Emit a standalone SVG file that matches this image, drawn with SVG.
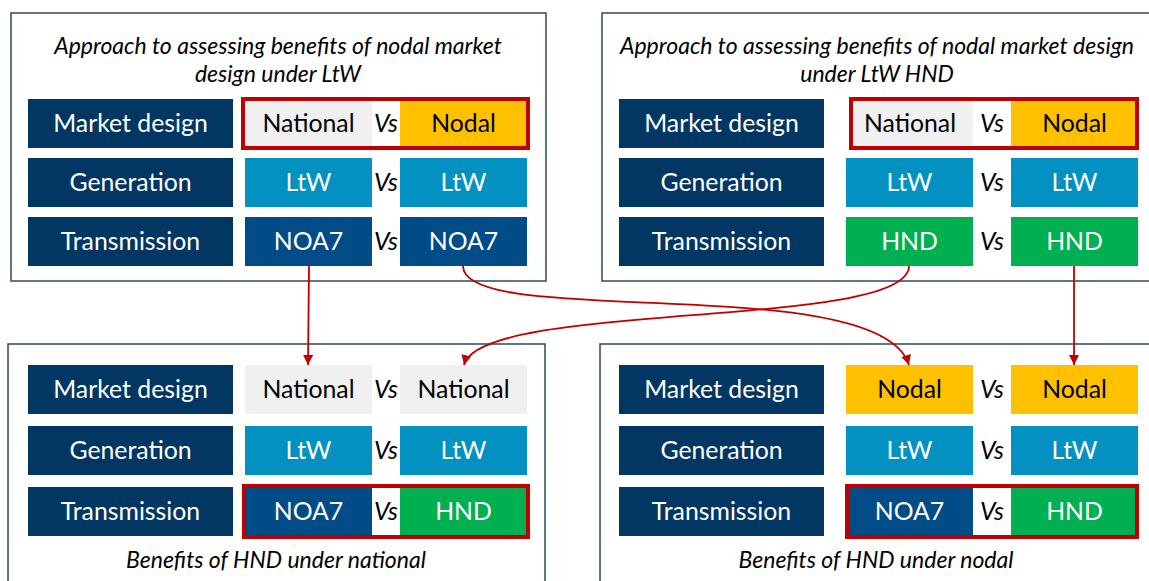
<svg xmlns="http://www.w3.org/2000/svg" width="1149" height="581" viewBox="0 0 1149 581">
<defs>
<style>
.panel{fill:#fff;stroke:#2A4868;stroke-width:1.5}
.lbl{fill:#023764}
.nat{fill:#EFF0EF}
.nod{fill:#FFC000}
.ltw{fill:#0391C2}
.noa{fill:#014C86}
.hnd{fill:#00B050}
.frame{fill:none;stroke:#C00000;stroke-width:4}
text{font-family:Lato,"Liberation Sans",sans-serif;text-anchor:middle}
.tw{fill:#fff;font-size:24.8px}
.tb{fill:#000;font-size:24.8px}
.vs{fill:#000;font-size:24.8px;font-style:italic}
.ti{fill:#000;font-size:23px;font-style:italic}
.conn{fill:none;stroke:#C00000;stroke-width:1.8}
</style>
<marker id="ah" markerUnits="userSpaceOnUse" markerWidth="10" markerHeight="10" viewBox="0 0 10 10" refX="10" refY="5" orient="auto">
<path d="M0,0 L10,5 L0,10 z" fill="#C00000"/>
</marker>
</defs>
<rect width="1149" height="581" fill="#fff"/>

<g id="panel-top-left">
<rect class="panel" x="11" y="13" width="535" height="268"/>
<text class="ti" x="278" y="54">Approach to assessing benefits of nodal market</text>
<text class="ti" x="278" y="82">design under LtW</text>
<rect class="lbl" x="28" y="99" width="205" height="49"/><text class="tw" x="130.5" y="132">Market design</text>
<rect class="lbl" x="28" y="158" width="205" height="49"/><text class="tw" x="130.5" y="191">Generation</text>
<rect class="lbl" x="28" y="217" width="205" height="49"/><text class="tw" x="130.5" y="250">Transmission</text>
<rect class="nat" x="245" y="99" width="127" height="49"/><text class="tb" x="308.5" y="132">National</text>
<text class="vs" x="386" y="132">Vs</text>
<rect class="nod" x="400" y="99" width="127" height="49"/><text class="tb" x="463.5" y="132">Nodal</text>
<rect class="ltw" x="245" y="158" width="127" height="49"/><text class="tw" x="308.5" y="191">LtW</text>
<text class="vs" x="386" y="191">Vs</text>
<rect class="ltw" x="400" y="158" width="127" height="49"/><text class="tw" x="463.5" y="191">LtW</text>
<rect class="noa" x="245" y="217" width="127" height="49"/><text class="tw" x="308.5" y="250">NOA7</text>
<text class="vs" x="386" y="250">Vs</text>
<rect class="noa" x="400" y="217" width="127" height="49"/><text class="tw" x="463.5" y="250">NOA7</text>
<rect class="frame" x="243" y="99" width="285" height="49"/>
</g>

<g id="panel-top-right">
<rect class="panel" x="602" y="13" width="560" height="268"/>
<text class="ti" x="877" y="54">Approach to assessing benefits of nodal market design</text>
<text class="ti" x="877" y="82">under LtW HND</text>
<rect class="lbl" x="619" y="99" width="205" height="49"/><text class="tw" x="721.5" y="132">Market design</text>
<rect class="lbl" x="619" y="158" width="205" height="49"/><text class="tw" x="721.5" y="191">Generation</text>
<rect class="lbl" x="619" y="217" width="205" height="49"/><text class="tw" x="721.5" y="250">Transmission</text>
<rect class="nat" x="850" y="99" width="123" height="49"/><text class="tb" x="910" y="132">National</text>
<text class="vs" x="992" y="132">Vs</text>
<rect class="nod" x="1011" y="99" width="127" height="49"/><text class="tb" x="1074.5" y="132">Nodal</text>
<rect class="ltw" x="846" y="158" width="127" height="49"/><text class="tw" x="909.5" y="191">LtW</text>
<text class="vs" x="992" y="191">Vs</text>
<rect class="ltw" x="1011" y="158" width="127" height="49"/><text class="tw" x="1074.5" y="191">LtW</text>
<rect class="hnd" x="846" y="217" width="127" height="49"/><text class="tw" x="909.5" y="250">HND</text>
<text class="vs" x="992" y="250">Vs</text>
<rect class="hnd" x="1011" y="217" width="127" height="49"/><text class="tw" x="1074.5" y="250">HND</text>
<rect class="frame" x="851" y="99" width="286" height="49"/>
</g>

<g id="panel-bottom-left">
<rect class="panel" x="8" y="344" width="537" height="260"/>
<rect class="lbl" x="28" y="365" width="205" height="49"/><text class="tw" x="130.5" y="398">Market design</text>
<rect class="lbl" x="28" y="426" width="205" height="49"/><text class="tw" x="130.5" y="459">Generation</text>
<rect class="lbl" x="28" y="487" width="205" height="49"/><text class="tw" x="130.5" y="520">Transmission</text>
<rect class="nat" x="245" y="365" width="127" height="49"/><text class="tb" x="308.5" y="398">National</text>
<text class="vs" x="386" y="398">Vs</text>
<rect class="nat" x="400" y="365" width="127" height="49"/><text class="tb" x="463.5" y="398">National</text>
<rect class="ltw" x="245" y="426" width="127" height="49"/><text class="tw" x="308.5" y="459">LtW</text>
<text class="vs" x="386" y="459">Vs</text>
<rect class="ltw" x="400" y="426" width="127" height="49"/><text class="tw" x="463.5" y="459">LtW</text>
<rect class="noa" x="245" y="487" width="127" height="49"/><text class="tw" x="308.5" y="520">NOA7</text>
<text class="vs" x="386" y="520">Vs</text>
<rect class="hnd" x="400" y="487" width="127" height="49"/><text class="tw" x="463.5" y="520">HND</text>
<rect class="frame" x="244" y="486" width="284" height="51"/>
<text class="ti" x="276" y="568">Benefits of HND under national</text>
</g>

<g id="panel-bottom-right">
<rect class="panel" x="600" y="344" width="560" height="260"/>
<rect class="lbl" x="619" y="365" width="205" height="49"/><text class="tw" x="721.5" y="398">Market design</text>
<rect class="lbl" x="619" y="426" width="205" height="49"/><text class="tw" x="721.5" y="459">Generation</text>
<rect class="lbl" x="619" y="487" width="205" height="49"/><text class="tw" x="721.5" y="520">Transmission</text>
<rect class="nod" x="846" y="365" width="127" height="49"/><text class="tb" x="909.5" y="398">Nodal</text>
<text class="vs" x="992" y="398">Vs</text>
<rect class="nod" x="1011" y="365" width="127" height="49"/><text class="tb" x="1074.5" y="398">Nodal</text>
<rect class="ltw" x="846" y="426" width="127" height="49"/><text class="tw" x="909.5" y="459">LtW</text>
<text class="vs" x="992" y="459">Vs</text>
<rect class="ltw" x="1011" y="426" width="127" height="49"/><text class="tw" x="1074.5" y="459">LtW</text>
<rect class="noa" x="846" y="487" width="127" height="49"/><text class="tw" x="909.5" y="520">NOA7</text>
<text class="vs" x="992" y="520">Vs</text>
<rect class="hnd" x="1011" y="487" width="127" height="49"/><text class="tw" x="1074.5" y="520">HND</text>
<rect class="frame" x="847" y="486" width="290" height="51"/>
<text class="ti" x="876" y="568">Benefits of HND under nodal</text>
</g>

<g id="connectors">
<path class="conn" d="M309,266 L308,365" marker-end="url(#ah)"/>
<path class="conn" d="M463,266 C463,330 880,270 909,365" marker-end="url(#ah)"/>
<path class="conn" d="M909,266 C909,330 480,300 464,365" marker-end="url(#ah)"/>
<path class="conn" d="M1074,266 L1074,365" marker-end="url(#ah)"/>
</g>
</svg>
